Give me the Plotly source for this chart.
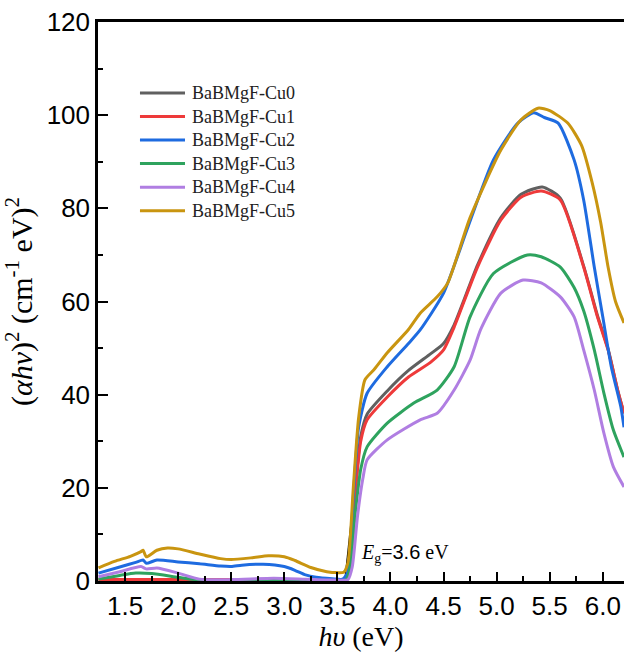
import plotly.graph_objects as go

names = ["BaBMgF-Cu0", "BaBMgF-Cu1", "BaBMgF-Cu2", "BaBMgF-Cu3", "BaBMgF-Cu4", "BaBMgF-Cu5"]
colors = ["#606060", "#ee3a3a", "#1e6be0", "#2ea35e", "#b07ee2", "#c99510"]

x_cu0 = [1.25, 2.0, 3.0, 3.5, 3.58, 3.62, 3.67, 3.72, 3.78, 3.97, 4.17, 4.38, 4.5, 4.6, 4.82, 5.04, 5.23, 5.43, 5.6, 5.82, 5.95, 6.05, 6.14, 6.2]
y_cu0 = [0.2, 0.2, 0.2, 0.1, 0.2, 5, 20, 31, 35.8, 40.8, 45.2, 48.8, 51, 55, 67.8, 78, 83, 84.6, 82.2, 67.6, 57, 49.8, 41, 36]

x_cu1 = [1.25, 2.0, 3.0, 3.5, 3.58, 3.62, 3.67, 3.72, 3.78, 3.97, 4.17, 4.38, 4.5, 4.6, 4.82, 5.04, 5.23, 5.42, 5.6, 5.82, 5.95, 6.05, 6.14, 6.2]
y_cu1 = [0.3, 0.3, 0.3, 0.2, 0.3, 5, 19, 30, 34.6, 39.5, 43.8, 47, 49.6, 54.5, 67.4, 77.5, 82.4, 83.7, 81.8, 67.4, 56.7, 49.6, 41, 36]

x_cu2 = [1.25, 1.45, 1.6, 1.67, 1.70, 1.8, 2.0, 2.2, 2.4, 2.5, 2.6, 2.8, 3.0, 3.1, 3.2, 3.3, 3.45, 3.55, 3.60, 3.65, 3.70, 3.78, 3.97, 4.17, 4.28, 4.5, 4.73, 4.97, 5.2, 5.35, 5.45, 5.58, 5.73, 5.82, 5.92, 6.0, 6.08, 6.17, 6.2]
y_cu2 = [1.7, 3.0, 4.0, 4.5, 3.8, 4.5, 4.1, 3.7, 3.2, 3.1, 3.4, 3.6, 3.1, 2.3, 1.3, 0.8, 0.5, 0.4, 2, 18, 33, 40.3, 46, 51, 53.9, 61.8, 76, 90.4, 98.3, 100.5, 99.5, 98.3, 90.4, 81.8, 67.4, 56.7, 46, 37.4, 33]

x_cu3 = [1.25, 1.45, 1.6, 1.75, 2.0, 2.2, 2.5, 3.0, 3.5, 3.58, 3.62, 3.67, 3.72, 3.78, 3.97, 4.22, 4.44, 4.6, 4.75, 4.97, 5.29, 5.42, 5.6, 5.73, 5.82, 5.92, 6.01, 6.1, 6.2]
y_cu3 = [0.4, 1.2, 1.7, 1.6, 0.8, 0.2, 0.1, 0.1, 0.1, 0.2, 3, 15, 24, 28.8, 33.9, 38.2, 41, 46, 56.7, 66, 70, 69.6, 67.4, 63, 58, 49.6, 40.4, 32.4, 26.6]

x_cu4 = [1.25, 1.45, 1.65, 1.70, 1.8, 2.0, 2.2, 2.5, 2.9, 3.2, 3.5, 3.6, 3.64, 3.69, 3.74, 3.78, 3.97, 4.28, 4.44, 4.6, 4.75, 4.85, 5.04, 5.25, 5.42, 5.6, 5.73, 5.82, 5.92, 6.01, 6.1, 6.2]
y_cu4 = [0.9, 2.0, 3.1, 2.6, 2.8, 1.7, 0.4, 0.3, 0.6, 0.4, 0.2, 0.3, 3, 14, 22, 26, 30.3, 34.6, 36, 41, 47.4, 54, 61.8, 64.6, 64, 61, 56.7, 49.6, 41, 31.8, 24.5, 20.2]

x_cu5 = [1.25, 1.4, 1.55, 1.65, 1.67, 1.70, 1.8, 1.9, 2.0, 2.2, 2.4, 2.5, 2.7, 2.85, 3.0, 3.1, 3.25, 3.4, 3.5, 3.56, 3.60, 3.65, 3.70, 3.76, 3.85, 3.97, 4.17, 4.28, 4.44, 4.54, 4.75, 5.04, 5.23, 5.39, 5.5, 5.67, 5.8, 5.9, 5.98, 6.05, 6.12, 6.2]
y_cu5 = [2.8, 4.2, 5.3, 6.3, 6.6, 5.2, 6.6, 7.1, 6.9, 5.8, 4.8, 4.6, 5.0, 5.4, 5.2, 4.4, 2.9, 2.0, 1.8, 1.9, 4, 20, 35, 43.2, 45.5, 49, 54, 57.5, 61, 64, 78, 92.5, 99, 101.5, 101, 98.3, 93.5, 85.5, 77, 67.4, 60, 55.4]

tangent_x = [3.555, 3.70]
tangent_y = [-3, 28]

xs = [x_cu0, x_cu1, x_cu2, x_cu3, x_cu4, x_cu5]
ys = [y_cu0, y_cu1, y_cu2, y_cu3, y_cu4, y_cu5]

x_ticks = [1.5, 2.0, 2.5, 3.0, 3.5, 4.0, 4.5, 5.0, 5.5, 6.0]
x_ticklabels = ["1.5", "2.0", "2.5", "3.0", "3.5", "4.0", "4.5", "5.0", "5.5", "6.0"]
y_ticks = [0, 20, 40, 60, 80, 100, 120]

fig = go.Figure()

fig.add_trace(go.Scatter(x=tangent_x, y=tangent_y, mode="lines",
                         line=dict(color="black", width=1.2), showlegend=False, hoverinfo="skip"))

for n, c, x, y in zip(names, colors, xs, ys):
    fig.add_trace(go.Scatter(x=x, y=y, mode="lines", name=n, showlegend=False,
                             line=dict(color=c, width=3, shape="spline", smoothing=0.6)))

axis_font = dict(family="Liberation Sans, Arial, sans-serif", size=26, color="black")
serif = "Liberation Serif, Times New Roman, serif"

# legend drawn as line samples + labels in paper space
leg_x0, leg_x1, leg_tx = 0.0798, 0.1654, 0.1749
leg_top, leg_step = 0.873, 0.0421
shapes = []
annotations = []
for i, (n, c) in enumerate(zip(names, colors)):
    yy = leg_top - i * leg_step
    shapes.append(dict(type="line", xref="paper", yref="paper", x0=leg_x0, x1=leg_x1, y0=yy, y1=yy,
                       line=dict(color=c, width=3)))
    annotations.append(dict(x=leg_tx, y=yy, xref="paper", yref="paper", xanchor="left", yanchor="middle",
                            showarrow=False, text=n, font=dict(family=serif, size=18, color="#222")))

annotations.append(dict(x=4.14, y=5.8, xref="x", yref="y", showarrow=False,
                        text="<i>E</i><sub>g</sub>=<span style='font-family:Liberation Sans, Arial'>3.6</span> eV",
                        font=dict(family=serif, size=20, color="black")))

fig.update_layout(
    width=624, height=652,
    margin=dict(l=98, r=0, t=22, b=71),
    paper_bgcolor="white", plot_bgcolor="white",
    showlegend=False,
    xaxis=dict(range=[1.245, 6.2], tickvals=x_ticks, ticktext=x_ticklabels,
               ticks="inside", ticklen=9, tickwidth=2, tickcolor="black",
               showline=True, linewidth=2.5, linecolor="black", mirror=True,
               showgrid=False, zeroline=False, tickfont=axis_font,
               minor=dict(dtick=0.25, tick0=1.25, ticks="inside", ticklen=5, tickwidth=2, tickcolor="black"),
               title=dict(text="<i>hυ</i> (eV)", font=dict(family=serif, size=28, color="black"), standoff=4)),
    yaxis=dict(range=[0, 120], tickvals=y_ticks,
               ticks="inside", ticklen=10, tickwidth=2, tickcolor="black",
               showline=True, linewidth=2.5, linecolor="black", mirror=False,
               showgrid=False, zeroline=False, tickfont=axis_font,
               minor=dict(dtick=10, ticks="inside", ticklen=5, tickwidth=2, tickcolor="black"),
               title=dict(text="(<i>αhν</i>)<sup>2</sup> (cm<sup>-1</sup> eV)<sup>2</sup>",
                          font=dict(family=serif, size=30, color="black"), standoff=6)),
    shapes=shapes,
    annotations=annotations,
)

fig.write_html("out.html")
